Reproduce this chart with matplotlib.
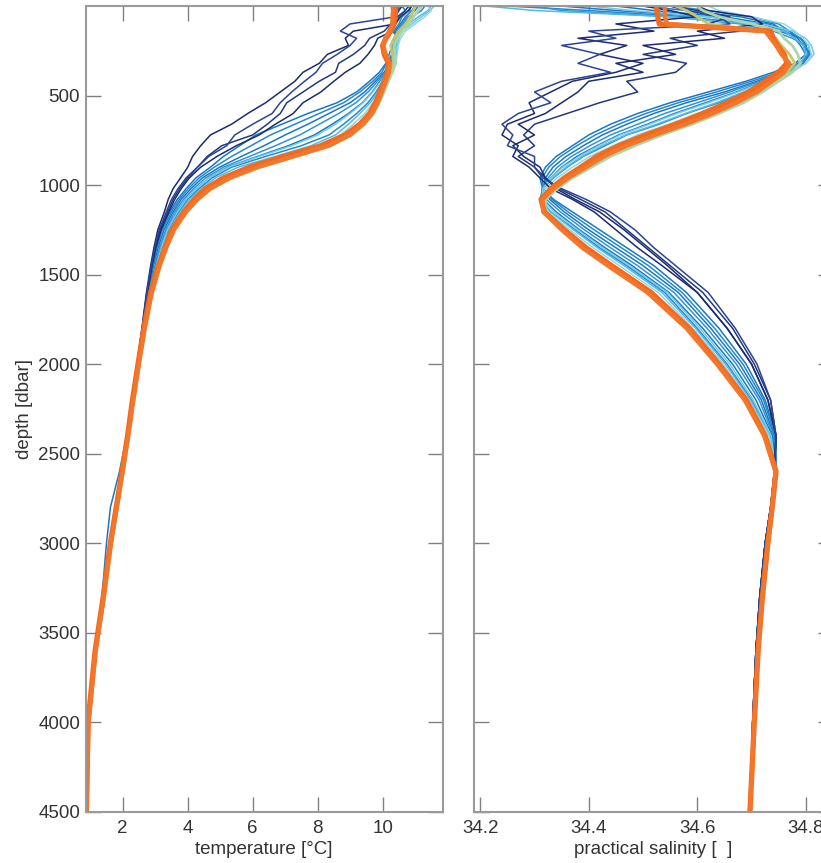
import matplotlib
matplotlib.use("Agg")
import matplotlib.pyplot as plt

plt.rcParams['font.family'] = ['Liberation Sans', 'DejaVu Sans']

# ------- depth levels [dbar]
depth = [0, 25, 60, 100, 140, 180, 220, 270, 320, 370,
         420, 480, 540, 600, 660, 720, 780, 840, 900, 960,
         1020, 1080, 1150, 1250, 1350, 1450, 1600, 1800, 2000, 2200,
         2400, 2600, 2800, 3000, 3300, 3600, 4000, 4500]

# ------- temperature profiles [degC]
navy1_t = [10.60, 10.50, 10.35, 10.40, 9.10, 8.85, 8.95, 8.30, 8.05, 7.55,
           7.30, 6.85, 6.40, 5.85, 5.35, 4.70, 4.40, 4.15, 4.00, 3.78,
           3.55, 3.40, 3.28, 3.08, 2.96, 2.86, 2.73, 2.59, 2.44, 2.29,
           2.14, 1.97, 1.79, 1.61, 1.39, 1.15, 0.95, 0.92]
navy2_t = [10.80, 10.70, 10.45, 10.25, 10.05, 9.60, 9.45, 9.10, 8.65, 8.55,
           8.05, 7.55, 7.05, 6.85, 6.45, 6.00, 5.05, 4.60, 4.30, 4.00,
           3.75, 3.55, 3.38, 3.15, 3.00, 2.89, 2.75, 2.60, 2.45, 2.29,
           2.13, 1.97, 1.79, 1.61, 1.39, 1.15, 0.95, 0.92]
navy3_t = [10.90, 10.80, 10.55, 10.40, 10.30, 9.85, 9.75, 9.55, 9.30, 8.85,
           8.50, 8.10, 7.55, 7.25, 6.70, 6.20, 5.50, 4.90, 4.40, 4.05,
           3.80, 3.60, 3.42, 3.18, 3.02, 2.90, 2.76, 2.61, 2.45, 2.29,
           2.13, 1.97, 1.79, 1.61, 1.39, 1.15, 0.95, 0.92]
navy4_t = [10.50, 10.50, 10.40, 9.00, 8.70, 9.20, 9.00, 8.60, 8.15, 7.95,
           7.60, 7.20, 6.85, 6.60, 6.00, 5.45, 5.20, 4.65, 4.30, 3.95,
           3.70, 3.50, 3.34, 3.12, 2.98, 2.88, 2.74, 2.60, 2.45, 2.29,
           2.13, 1.97, 1.79, 1.61, 1.39, 1.15, 0.95, 0.92]

blue1_t = [10.60, 10.70, 10.50, 10.40, 10.30, 10.50, 10.30, 10.20, 10.10, 9.90,
           9.60, 9.20, 8.60, 7.70, 6.90, 6.10, 5.60, 5.10, 4.70, 4.25,
           3.95, 3.68, 3.45, 3.18, 3.02, 2.90, 2.75, 2.60, 2.44, 2.28,
           2.12, 1.90, 1.62, 1.50, 1.36, 1.13, 0.95, 0.92]
blue2_t = [10.90, 10.80, 10.60, 10.50, 10.35, 10.45, 10.32, 10.28, 10.12, 9.98,
           9.70, 9.30, 8.80, 8.05, 7.30, 6.55, 5.95, 5.35, 4.82, 4.35,
           4.02, 3.74, 3.50, 3.22, 3.05, 2.92, 2.77, 2.61, 2.45, 2.29,
           2.13, 1.97, 1.79, 1.61, 1.39, 1.15, 0.95, 0.91]
blue3_t = [11.00, 10.90, 10.70, 10.55, 10.40, 10.40, 10.35, 10.30, 10.20, 10.05,
           9.78, 9.45, 9.00, 8.35, 7.70, 7.00, 6.35, 5.65, 4.98, 4.45,
           4.10, 3.80, 3.55, 3.27, 3.09, 2.95, 2.79, 2.62, 2.46, 2.29,
           2.13, 1.97, 1.79, 1.61, 1.39, 1.15, 0.95, 0.91]
blue4_t = [10.80, 10.85, 10.75, 10.60, 10.45, 10.42, 10.38, 10.35, 10.25, 10.10,
           9.85, 9.55, 9.18, 8.65, 8.05, 7.45, 6.70, 5.90, 5.10, 4.55,
           4.18, 3.87, 3.60, 3.32, 3.13, 2.99, 2.81, 2.63, 2.46, 2.29,
           2.13, 1.97, 1.79, 1.61, 1.39, 1.15, 0.95, 0.91]
blue5_t = [11.10, 11.00, 10.80, 10.65, 10.48, 10.44, 10.38, 10.38, 10.30, 10.15,
           9.92, 9.68, 9.38, 8.95, 8.45, 7.90, 7.10, 6.15, 5.22, 4.65,
           4.27, 3.94, 3.66, 3.37, 3.18, 3.02, 2.83, 2.64, 2.47, 2.30,
           2.14, 1.98, 1.80, 1.62, 1.40, 1.16, 0.95, 0.90]
blue6_t = [11.30, 11.20, 10.90, 10.70, 10.50, 10.45, 10.40, 10.40, 10.35, 10.20,
           10.00, 9.80, 9.55, 9.20, 8.80, 8.35, 7.50, 6.40, 5.35, 4.75,
           4.35, 4.00, 3.72, 3.42, 3.22, 3.05, 2.84, 2.64, 2.47, 2.30,
           2.14, 1.98, 1.80, 1.62, 1.40, 1.16, 0.95, 0.90]

cyan1_t = [11.50, 11.40, 11.10, 10.80, 10.55, 10.45, 10.40, 10.42, 10.38, 10.25,
           10.05, 9.85, 9.62, 9.30, 8.95, 8.55, 7.80, 6.70, 5.55, 4.85,
           4.42, 4.06, 3.76, 3.45, 3.24, 3.07, 2.85, 2.65, 2.48, 2.31,
           2.15, 1.99, 1.81, 1.63, 1.41, 1.16, 0.95, 0.90]
cyan2_t = [11.60, 11.45, 11.20, 10.90, 10.60, 10.50, 10.45, 10.40, 10.30, 10.15,
           9.95, 9.70, 9.40, 9.00, 8.55, 8.00, 7.20, 6.20, 5.25, 4.65,
           4.28, 3.95, 3.68, 3.38, 3.19, 3.03, 2.83, 2.64, 2.47, 2.30,
           2.14, 1.98, 1.80, 1.62, 1.40, 1.16, 0.95, 0.90]
cyan3_t = [11.40, 11.50, 11.30, 11.00, 10.70, 10.55, 10.48, 10.45, 10.40, 10.30,
           10.10, 9.90, 9.70, 9.45, 9.10, 8.70, 8.05, 7.00, 5.80, 5.00,
           4.50, 4.12, 3.82, 3.49, 3.27, 3.09, 2.86, 2.66, 2.48, 2.31,
           2.15, 1.99, 1.81, 1.63, 1.41, 1.16, 0.95, 0.90]

yellow1_t = [11.00, 10.95, 10.85, 10.70, 10.50, 10.35, 10.25, 10.30, 10.35, 10.28,
             10.15, 10.00, 9.85, 9.66, 9.38, 8.95, 8.25, 7.10, 6.05, 5.20,
             4.62, 4.25, 3.92, 3.55, 3.32, 3.12, 2.88, 2.66, 2.48, 2.31,
             2.16, 1.99, 1.81, 1.63, 1.41, 1.16, 0.94, 0.88]
yellow2_t = [11.20, 11.10, 10.95, 10.80, 10.60, 10.45, 10.35, 10.38, 10.40, 10.30,
             10.18, 10.05, 9.90, 9.72, 9.45, 9.05, 8.40, 7.35, 6.25, 5.35,
             4.72, 4.32, 3.97, 3.58, 3.35, 3.14, 2.89, 2.67, 2.49, 2.32,
             2.16, 2.00, 1.82, 1.63, 1.41, 1.16, 0.94, 0.88]

orange1_t = [10.40, 10.40, 10.38, 10.35, 10.25, 10.10, 10.00, 10.05, 10.18, 10.15,
             10.05, 9.92, 9.78, 9.60, 9.30, 8.85, 8.10, 6.95, 5.90, 5.10,
             4.55, 4.20, 3.88, 3.52, 3.30, 3.10, 2.86, 2.65, 2.47, 2.30,
             2.15, 1.98, 1.80, 1.62, 1.40, 1.15, 0.93, 0.88]
orange2_t = [10.30, 10.32, 10.30, 10.30, 10.20, 10.08, 10.02, 10.10, 10.22, 10.20,
             10.10, 9.98, 9.85, 9.68, 9.40, 9.00, 8.35, 7.25, 6.15, 5.30,
             4.70, 4.30, 3.95, 3.58, 3.34, 3.14, 2.90, 2.68, 2.50, 2.33,
             2.17, 2.00, 1.82, 1.64, 1.42, 1.17, 0.95, 0.89]

# ------- practical salinity profiles
navy1_s = [34.500, 34.550, 34.600, 34.450, 34.520, 34.380, 34.470, 34.420, 34.500, 34.450,
           34.370, 34.330, 34.290, 34.300, 34.250, 34.240, 34.270, 34.260, 34.290, 34.310,
           34.330, 34.370, 34.410, 34.450, 34.490, 34.535, 34.600, 34.655, 34.700, 34.730,
           34.745, 34.742, 34.735, 34.725, 34.715, 34.708, 34.702, 34.698]
navy2_s = [34.550, 34.600, 34.660, 34.620, 34.680, 34.550, 34.600, 34.500, 34.580, 34.560,
           34.470, 34.490, 34.420, 34.360, 34.300, 34.280, 34.300, 34.270, 34.300, 34.320,
           34.345, 34.385, 34.430, 34.470, 34.510, 34.550, 34.610, 34.665, 34.705, 34.735,
           34.745, 34.742, 34.735, 34.725, 34.715, 34.708, 34.702, 34.698]
navy3_s = [34.600, 34.620, 34.700, 34.720, 34.600, 34.650, 34.500, 34.560, 34.450, 34.500,
           34.400, 34.380, 34.350, 34.320, 34.270, 34.300, 34.260, 34.280, 34.310, 34.320,
           34.340, 34.375, 34.420, 34.465, 34.505, 34.545, 34.600, 34.655, 34.700, 34.730,
           34.745, 34.742, 34.735, 34.725, 34.715, 34.708, 34.702, 34.698]
navy4_s = [34.550, 34.580, 34.640, 34.660, 34.400, 34.450, 34.350, 34.420, 34.380, 34.440,
           34.350, 34.300, 34.330, 34.270, 34.240, 34.260, 34.250, 34.300, 34.300, 34.315,
           34.350, 34.395, 34.440, 34.485, 34.520, 34.560, 34.620, 34.670, 34.710, 34.735,
           34.745, 34.742, 34.735, 34.725, 34.715, 34.708, 34.702, 34.698]

blue1_s = [34.350, 34.450, 34.620, 34.720, 34.760, 34.780, 34.790, 34.800, 34.780, 34.740,
           34.690, 34.620, 34.550, 34.490, 34.440, 34.400, 34.370, 34.340, 34.320, 34.310,
           34.315, 34.335, 34.370, 34.420, 34.470, 34.520, 34.580, 34.640, 34.690, 34.725,
           34.745, 34.745, 34.735, 34.725, 34.715, 34.708, 34.702, 34.698]
blue2_s = [34.250, 34.400, 34.580, 34.700, 34.750, 34.790, 34.800, 34.805, 34.790, 34.750,
           34.700, 34.635, 34.565, 34.505, 34.455, 34.412, 34.378, 34.348, 34.326, 34.314,
           34.316, 34.332, 34.362, 34.410, 34.460, 34.510, 34.572, 34.632, 34.684, 34.722,
           34.744, 34.745, 34.735, 34.725, 34.715, 34.708, 34.702, 34.698]
blue3_s = [34.450, 34.520, 34.650, 34.730, 34.770, 34.785, 34.795, 34.810, 34.785, 34.755,
           34.710, 34.650, 34.580, 34.520, 34.470, 34.425, 34.390, 34.358, 34.334, 34.320,
           34.316, 34.328, 34.355, 34.400, 34.450, 34.500, 34.565, 34.625, 34.678, 34.718,
           34.742, 34.745, 34.735, 34.726, 34.716, 34.708, 34.702, 34.698]
blue4_s = [34.300, 34.350, 34.550, 34.680, 34.740, 34.775, 34.800, 34.800, 34.795, 34.760,
           34.715, 34.660, 34.600, 34.540, 34.490, 34.440, 34.402, 34.368, 34.342, 34.325,
           34.314, 34.322, 34.348, 34.392, 34.440, 34.490, 34.557, 34.618, 34.672, 34.714,
           34.740, 34.745, 34.736, 34.726, 34.716, 34.709, 34.703, 34.698]
blue5_s = [34.500, 34.580, 34.680, 34.740, 34.760, 34.790, 34.805, 34.808, 34.795, 34.765,
           34.722, 34.672, 34.615, 34.558, 34.508, 34.455, 34.415, 34.378, 34.350, 34.330,
           34.314, 34.316, 34.340, 34.383, 34.430, 34.480, 34.548, 34.610, 34.665, 34.708,
           34.738, 34.745, 34.736, 34.727, 34.717, 34.709, 34.703, 34.698]
blue6_s = [34.550, 34.620, 34.700, 34.750, 34.770, 34.790, 34.800, 34.805, 34.790, 34.770,
           34.730, 34.690, 34.640, 34.580, 34.530, 34.470, 34.430, 34.390, 34.360, 34.335,
           34.315, 34.310, 34.330, 34.375, 34.420, 34.470, 34.540, 34.600, 34.655, 34.700,
           34.735, 34.745, 34.737, 34.727, 34.717, 34.709, 34.703, 34.698]

cyan1_s = [34.210, 34.300, 34.550, 34.700, 34.760, 34.780, 34.795, 34.800, 34.790, 34.765,
           34.728, 34.685, 34.635, 34.578, 34.525, 34.468, 34.425, 34.388, 34.358, 34.334,
           34.316, 34.312, 34.330, 34.372, 34.416, 34.465, 34.535, 34.597, 34.652, 34.698,
           34.734, 34.745, 34.737, 34.728, 34.718, 34.710, 34.703, 34.698]
cyan2_s = [34.400, 34.480, 34.620, 34.720, 34.775, 34.800, 34.810, 34.815, 34.800, 34.770,
           34.725, 34.675, 34.620, 34.562, 34.512, 34.458, 34.418, 34.382, 34.352, 34.330,
           34.315, 34.315, 34.336, 34.380, 34.425, 34.475, 34.545, 34.605, 34.660, 34.703,
           34.736, 34.745, 34.737, 34.728, 34.718, 34.710, 34.703, 34.698]
cyan3_s = [34.620, 34.640, 34.700, 34.760, 34.780, 34.795, 34.805, 34.810, 34.800, 34.775,
           34.740, 34.700, 34.655, 34.600, 34.548, 34.490, 34.445, 34.402, 34.370, 34.342,
           34.320, 34.312, 34.325, 34.365, 34.408, 34.456, 34.528, 34.592, 34.648, 34.695,
           34.732, 34.745, 34.737, 34.729, 34.719, 34.710, 34.704, 34.698]

yellow1_s = [34.560, 34.580, 34.600, 34.620, 34.730, 34.745, 34.755, 34.770, 34.780, 34.765,
             34.742, 34.712, 34.675, 34.630, 34.580, 34.525, 34.475, 34.432, 34.398, 34.365,
             34.338, 34.318, 34.318, 34.350, 34.390, 34.438, 34.512, 34.583, 34.638, 34.688,
             34.724, 34.745, 34.738, 34.730, 34.720, 34.712, 34.705, 34.697]
yellow2_s = [34.600, 34.610, 34.640, 34.700, 34.750, 34.760, 34.775, 34.785, 34.790, 34.775,
             34.750, 34.720, 34.685, 34.640, 34.590, 34.535, 34.485, 34.440, 34.405, 34.370,
             34.342, 34.320, 34.320, 34.352, 34.392, 34.440, 34.514, 34.584, 34.639, 34.689,
             34.724, 34.745, 34.738, 34.730, 34.720, 34.712, 34.705, 34.697]

orange1_s = [34.525, 34.525, 34.527, 34.530, 34.735, 34.740, 34.748, 34.760, 34.765, 34.750,
             34.725, 34.695, 34.655, 34.610, 34.560, 34.505, 34.455, 34.415, 34.385, 34.355,
             34.330, 34.312, 34.318, 34.355, 34.395, 34.442, 34.515, 34.585, 34.640, 34.690,
             34.725, 34.745, 34.738, 34.730, 34.720, 34.712, 34.705, 34.697]
orange2_s = [34.540, 34.540, 34.540, 34.545, 34.725, 34.735, 34.745, 34.755, 34.770, 34.760,
             34.738, 34.710, 34.672, 34.628, 34.578, 34.522, 34.470, 34.428, 34.395, 34.362,
             34.335, 34.315, 34.316, 34.350, 34.388, 34.435, 34.508, 34.580, 34.636, 34.687,
             34.723, 34.744, 34.738, 34.730, 34.720, 34.712, 34.705, 34.697]

# (temperature, salinity, colour, linewidth) in drawing order
profiles = [
    (blue1_t, blue1_s, '#1a78c2', 1.1),
    (blue2_t, blue2_s, '#2389cf', 1.1),
    (blue3_t, blue3_s, '#1a78c2', 1.1),
    (blue4_t, blue4_s, '#2f95d8', 1.1),
    (blue5_t, blue5_s, '#1a78c2', 1.1),
    (blue6_t, blue6_s, '#2389cf', 1.1),
    (cyan1_t, cyan1_s, '#55b9e8', 1.1),
    (cyan2_t, cyan2_s, '#6fcbe8', 1.1),
    (cyan3_t, cyan3_s, '#8fd6e6', 1.1),
    (navy1_t, navy1_s, '#1d2c6e', 1.1),
    (navy2_t, navy2_s, '#233a80', 1.1),
    (navy3_t, navy3_s, '#1d2c6e', 1.1),
    (navy4_t, navy4_s, '#2b4590', 1.1),
    (yellow1_t, yellow1_s, '#c7c46a', 2.0),
    (yellow2_t, yellow2_s, '#a9d6a8', 2.0),
    (orange1_t, orange1_s, '#f26a1f', 3.8),
    (orange2_t, orange2_s, '#f4762a', 3.0),
]

fig = plt.figure(figsize=(8.21, 8.63), dpi=100)
ax1 = fig.add_axes([0.1044, 0.0594, 0.4348, 0.9336])
ax2 = fig.add_axes([0.5777, 0.0594, 0.4369, 0.9336])

for t, s, c, lw in profiles:
    ax1.plot(t, depth, color=c, lw=lw, solid_joinstyle='round')
    ax2.plot(s, depth, color=c, lw=lw, solid_joinstyle='round')

ax1.set_xlim(0.86, 11.85)
ax2.set_xlim(34.189, 34.85)
for ax in (ax1, ax2):
    ax.set_ylim(4500, 0)
    ax.set_yticks([500, 1000, 1500, 2000, 2500, 3000, 3500, 4000, 4500])
    ax.tick_params(direction='in', length=11, width=1.0, color='#808080',
                   top=True, right=True, labelsize=13.5, labelcolor='#333333', pad=4)
    ax.tick_params(axis='x', pad=6)
    for sp in ax.spines.values():
        sp.set_color('#9a9a9a')
        sp.set_linewidth(1.5)

ax1.set_xticks([2, 4, 6, 8, 10])
ax2.set_xticks([34.2, 34.4, 34.6, 34.8])
ax2.set_xticklabels(['34.2', '34.4', '34.6', '34.8'])
ax2.tick_params(labelleft=False)

ax1.set_xlabel('temperature [°C]', fontsize=13.5, color='#333333', labelpad=3)
ax2.set_xlabel('practical salinity [  ]', fontsize=13.5, color='#333333', labelpad=3)
ax1.set_ylabel('depth [dbar]', fontsize=13.5, color='#333333', labelpad=4)

fig.savefig('out.png', dpi=100)
